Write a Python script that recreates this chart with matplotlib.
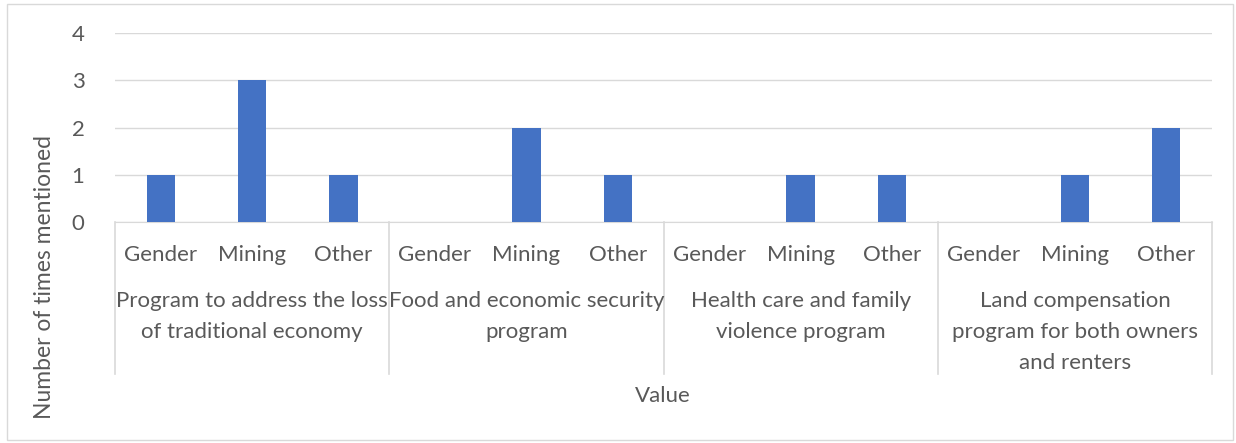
import matplotlib.pyplot as plt
from matplotlib.patches import Rectangle
from matplotlib.transforms import blended_transform_factory

plt.rcParams['font.family'] = ['Lato', 'DejaVu Sans']

groups = ['Program to address the loss\nof traditional economy',
          'Food and economic security\nprogram',
          'Health care and family\nviolence program',
          'Land compensation\nprogram for both owners\nand renters']
categories = ['Gender', 'Mining', 'Other']
values = [[1, 3, 1],
          [0, 2, 1],
          [0, 1, 1],
          [0, 1, 2]]

W, H = 1236, 443
fig = plt.figure(figsize=(W / 100, H / 100), dpi=100)
fig.patches.append(Rectangle((7 / W, 3 / H), 1226 / W, 436 / H, transform=fig.transFigure,
                             fill=False, edgecolor='#d9d9d9', linewidth=1))

left, right, top, bottom = 115, 1212, 33, 222
ax = fig.add_axes([left / W, 1 - bottom / H, (right - left) / W, (bottom - top) / H])

txt = '#595959'
grid = '#d9d9d9'
n = len(categories)
xs, hs = [], []
for g, vals in enumerate(values):
    for c, v in enumerate(vals):
        xs.append(g * n + c + 0.5)
        hs.append(v)
ax.bar(xs, hs, width=0.31, color='#4472c4', zorder=3)

ax.set_xlim(0, n * len(groups))
ax.set_ylim(0, 4)
ax.set_yticks(range(5))
ax.yaxis.grid(True, color=grid, linewidth=1)
ax.set_axisbelow(True)
ax.tick_params(axis='y', length=0, labelsize=16, labelcolor=txt, pad=22)
ax.set_xticks([])
for s in ['top', 'right', 'left']:
    ax.spines[s].set_visible(False)
ax.spines['bottom'].set_color(grid)

axh = bottom - top
tr = blended_transform_factory(ax.transData, ax.transAxes)
for b in range(len(groups) + 1):
    ax.plot([b * n, b * n], [0, -152 / axh], transform=tr, color=grid,
            linewidth=1.2, clip_on=False)

for i, x in enumerate(xs):
    ax.text(x, -33 / axh, categories[i % n], transform=tr, ha='center', va='center',
            fontsize=16, color=txt)
for g, name in enumerate(groups):
    ax.text(g * n + n / 2, -69 / axh, name, transform=tr, ha='center', va='top',
            fontsize=16, color=txt, linespacing=1.68)

fig.text(663 / W, 1 - 396 / H, 'Value', ha='center', va='center', fontsize=16, color=txt)
fig.text(45 / W, 1 - 277 / H, 'Number of times mentioned', ha='center', va='center',
         rotation=90, fontsize=16.5, color=txt)

fig.savefig('out.png', dpi=100)
